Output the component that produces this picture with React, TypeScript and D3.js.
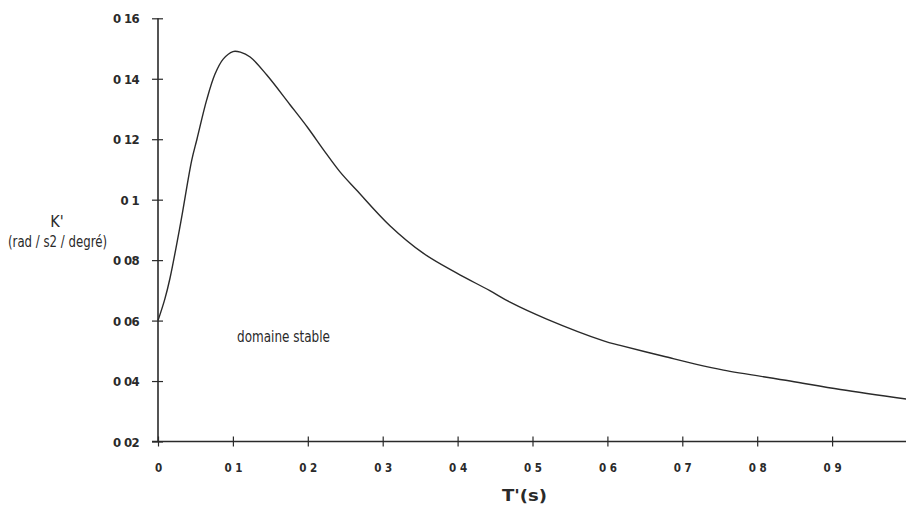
import React, { useEffect, useRef } from 'react';
import * as d3 from 'd3';

// T' (s) and K' (rad / s2 / degré)
const tValues = [0, 0.009, 0.016, 0.03, 0.045, 0.052, 0.065, 0.076, 0.087, 0.1, 0.11, 0.123, 0.145, 0.176, 0.2, 0.221, 0.243, 0.265, 0.31, 0.354, 0.399, 0.443, 0.47, 0.519, 0.595, 0.617, 0.675, 0.719, 0.755, 0.844, 0.911, 1.0];
const kValues = [0.06, 0.067, 0.074, 0.092, 0.113, 0.12, 0.133, 0.1415, 0.1465, 0.149, 0.1488, 0.1472, 0.1413, 0.1315, 0.1238, 0.1165, 0.1092, 0.1032, 0.0913, 0.0823, 0.0757, 0.0699, 0.0661, 0.0605, 0.0533, 0.0518, 0.0482, 0.0455, 0.0436, 0.04, 0.0372, 0.034];

const xTicks = [0, 0.1, 0.2, 0.3, 0.4, 0.5, 0.6, 0.7, 0.8, 0.9];
const xTickLabels = ['0', '0 1', '0 2', '0 3', '0 4', '0 5', '0 6', '0 7', '0 8', '0 9'];
const yTicks = [0.02, 0.04, 0.06, 0.08, 0.1, 0.12, 0.14, 0.16];
const yTickLabels = ['0 02', '0 04', '0 06', '0 08', '0 1', '0 12', '0 14', '0 16'];

const W = 906;
const H = 506;
const ink = '#2a2a2a';
const font = '"DejaVu Sans Condensed", "Liberation Sans Narrow", "Liberation Sans", sans-serif';

const App = () => {
  const svgRef = useRef<SVGSVGElement>(null);

  useEffect(() => {
    const svg = d3.select(svgRef.current);
    svg.selectAll('*').remove();

    const x = d3.scaleLinear().domain([0, 1]).range([158, 907]);
    const y = d3.scaleLinear().domain([0.02, 0.16]).range([441.5, 18.3]);

    // axis lines
    svg.append('line')
      .attr('x1', x(0) - 6).attr('x2', W)
      .attr('y1', y(0.02)).attr('y2', y(0.02))
      .attr('stroke', ink).attr('stroke-width', 1.4);
    svg.append('line')
      .attr('x1', x(0)).attr('x2', x(0))
      .attr('y1', y(0.16)).attr('y2', y(0.02))
      .attr('stroke', ink).attr('stroke-width', 1.6);

    const yAxis = d3.axisLeft(y)
      .tickValues(yTicks)
      .tickSize(6)
      .tickSizeOuter(0)
      .tickPadding(13)
      .tickFormat((d, i) => yTickLabels[i]);
    const gy = svg.append('g').attr('transform', `translate(${x(0)},0)`).call(yAxis);
    gy.select('.domain').remove();
    gy.selectAll('.tick line').attr('x1', 5).attr('stroke', ink).attr('stroke-width', 1.2);
    gy.selectAll('.tick text')
      .attr('fill', ink)
      .attr('font-family', font)
      .attr('font-size', 13)
      .attr('font-weight', 'bold')
      .attr('letter-spacing', -0.6)
      .attr('dy', '0.36em');

    const xAxis = d3.axisBottom(x)
      .tickValues(xTicks)
      .tickSize(5)
      .tickSizeOuter(0)
      .tickPadding(17)
      .tickFormat((d, i) => xTickLabels[i]);
    const gx = svg.append('g').attr('transform', `translate(0,${y(0.02)})`).call(xAxis);
    gx.select('.domain').remove();
    gx.selectAll('.tick line').attr('y1', -5).attr('stroke', ink).attr('stroke-width', 1.2);
    gx.selectAll('.tick text')
      .attr('fill', ink)
      .attr('font-family', font)
      .attr('font-size', 11.5)
      .attr('font-weight', 'bold');

    // curve
    const data = tValues.map((t, i) => [t, kValues[i]] as [number, number]);
    const line = d3.line<[number, number]>()
      .x(d => x(d[0]))
      .y(d => y(d[1]))
      .curve(d3.curveCatmullRom.alpha(0.5));
    svg.append('path')
      .datum(data)
      .attr('d', line)
      .attr('fill', 'none')
      .attr('stroke', ink)
      .attr('stroke-width', 1.4);

    // labels
    svg.append('text')
      .attr('x', 57).attr('y', 227)
      .attr('text-anchor', 'middle')
      .attr('font-family', font).attr('font-size', 16)
      .attr('fill', ink)
      .text("K'");
    svg.append('text')
      .attr('x', 8).attr('y', 247)
      .attr('textLength', 99).attr('lengthAdjust', 'spacingAndGlyphs')
      .attr('font-family', font).attr('font-size', 15)
      .attr('fill', ink)
      .text('(rad / s2 / degré)');
    svg.append('text')
      .attr('x', 237).attr('y', 341.5)
      .attr('textLength', 93).attr('lengthAdjust', 'spacingAndGlyphs')
      .attr('font-family', font).attr('font-size', 15)
      .attr('fill', ink)
      .text('domaine stable');
    svg.append('text')
      .attr('x', 502).attr('y', 501)
      .attr('textLength', 45).attr('lengthAdjust', 'spacingAndGlyphs')
      .attr('font-family', font).attr('font-size', 16).attr('font-weight', 'bold')
      .attr('fill', ink)
      .text("T'(s)");
  }, []);

  return (
    <svg
      ref={svgRef}
      width={W}
      height={H}
      viewBox={`0 0 ${W} ${H}`}
      style={{ position: 'absolute', left: 0, top: 0, background: '#fff' }}
    />
  );
};

export default App;
